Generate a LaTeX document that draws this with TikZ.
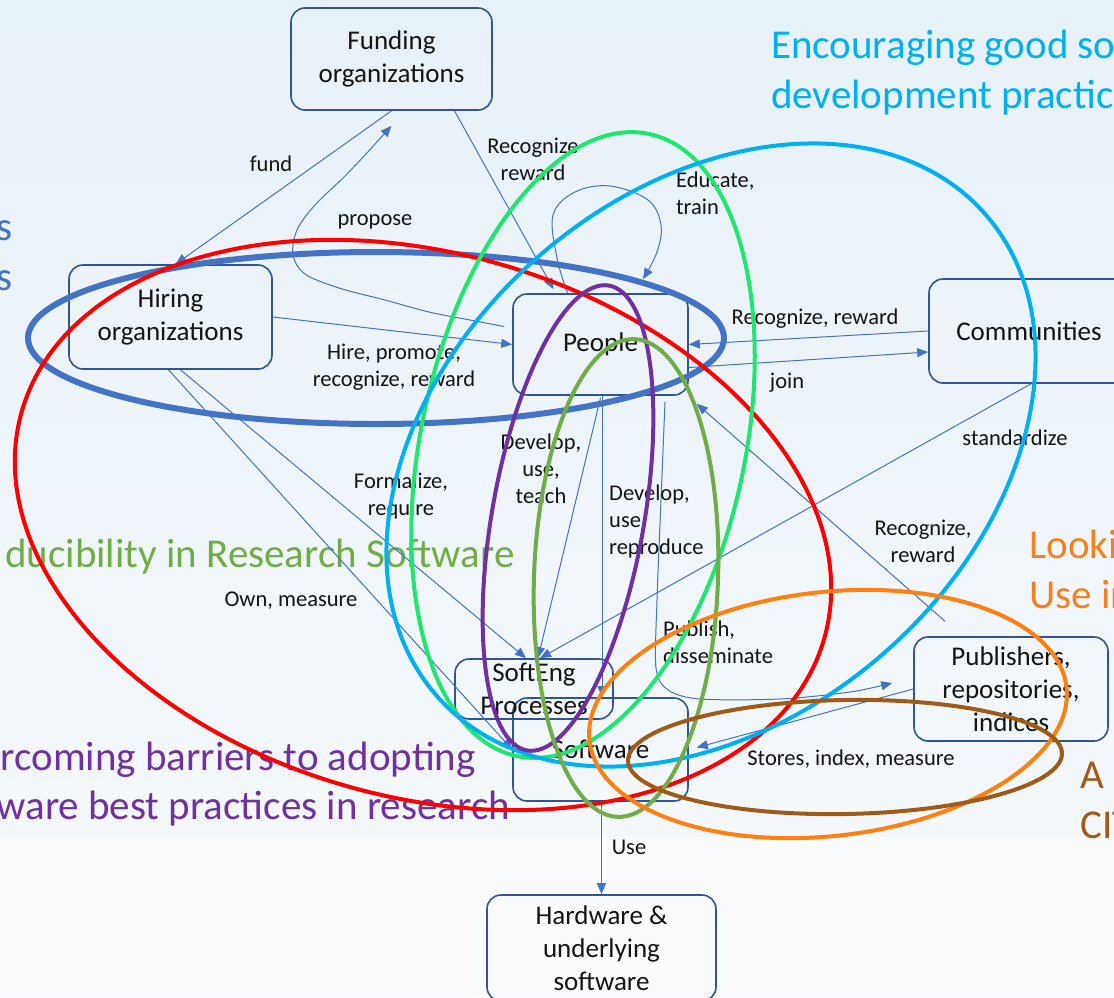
\documentclass[tikz,border=0pt]{standalone}
\usepackage{fontspec}
\setmainfont{Carlito}
\usetikzlibrary{arrows.meta,calc}
\definecolor{connblue}{RGB}{68,114,196}
\definecolor{boxblue}{RGB}{47,85,151}
\definecolor{ellred}{RGB}{255,0,0}
\definecolor{ellgreen}{RGB}{30,230,110}
\definecolor{ellcyan}{RGB}{0,176,240}
\definecolor{ellpurple}{RGB}{112,48,160}
\definecolor{ellolive}{RGB}{112,173,71}
\definecolor{ellorange}{RGB}{255,128,16}
\definecolor{ttlorange}{RGB}{245,128,32}
\definecolor{ellbrown}{RGB}{158,90,22}
\definecolor{bgtop}{RGB}{231,241,248}
\definecolor{bgmid}{RGB}{244,248,251}
\definecolor{bgbot}{RGB}{249,251,253}
\definecolor{txt}{RGB}{20,20,20}
\newcommand\boxfont{\fontsize{27}{33}\selectfont}
\newcommand\lblfont{\fontsize{22.5}{27}\selectfont}
\newcommand\ttlfont{\fontsize{41}{50}\selectfont}
\tikzset{
  box/.style={draw=boxblue, line width=1.6pt, rounded corners=14pt, inner sep=0pt},
  boxtext/.style={font=\boxfont, align=center, text=txt, inner sep=0pt},
  conn/.style={draw=connblue, line width=1pt, -{Triangle[length=11pt,width=9pt]}},
  lbl/.style={font=\lblfont, align=center, text=txt, inner sep=0pt},
  ttl/.style={font=\ttlfont, inner sep=0pt},
  ell/.style={line width=4pt}
}
\begin{document}
\begin{tikzpicture}[x=1pt,y=-1pt]
\useasboundingbox (0,0) rectangle (1114,997);
\clip (0,0) rectangle (1114,997);
% background
\shade[top color=bgtop, bottom color=bgmid] (0,0) rectangle (1114,837);
\fill[bgbot] (0,837) rectangle (1114,997);

% titles
\node[ttl, text=ellcyan, anchor=base west] (t1a) at (771,58) {Encouraging good so};
\node[ttl, text=ellcyan, anchor=base west] (t1b) at (771,108) {development practic};
\node[ttl, text=connblue, anchor=base east] (t2a) at (13,240) {s};
\node[ttl, text=connblue, anchor=base east] (t2b) at (13,290) {s};
\node[ttl, text=ellolive, anchor=base east] (t3) at (515,567) {ducibility in Research Software};
\node[ttl, text=ellpurple, anchor=base east] (t4a) at (476,770) {rcoming barriers to adopting};
\node[ttl, text=ellpurple, anchor=base east] (t4b) at (510,819) {ware best practices in research};
\node[ttl, text=ttlorange, anchor=base west] (t5a) at (1029,558) {Looki};
\node[ttl, text=ttlorange, anchor=base west] (t5b) at (1029,608) {Use in};
\node[ttl, text=ellbrown, anchor=base west] (t6a) at (1080,788) {A s};
\node[ttl, text=ellbrown, anchor=base west] (t6b) at (1080,838) {CIT};

% boxes
\node[box, minimum width=201pt, minimum height=102pt, label={[boxtext]center:Funding\\organizations}] (funding) at (391.5,59) {};
\node[box, minimum width=203pt, minimum height=104pt, label={[boxtext]center:Hiring\\organizations}] (hiring) at (170.5,317) {};
\node[box, minimum width=175pt, minimum height=101pt, label={[boxtext]center:People}] (people) at (600.5,344.5) {};
\node[box, minimum width=200pt, minimum height=104pt, label={[boxtext]center:Communities}] (comm) at (1029,331) {};
\node[box, minimum width=194pt, minimum height=104pt, label={[boxtext]center:Publishers,\\repositories,\\indices}] (pub) at (1011,689) {};
\node[box, minimum width=175pt, minimum height=103pt, label={[boxtext]center:Software}] (soft) at (600.5,749.5) {};
\node[box, minimum width=158pt, minimum height=60pt, label={[boxtext]center:SoftEng\\Processes}] (seng) at (534,689) {};
\node[box, minimum width=229pt, minimum height=106pt, label={[boxtext]center:Hardware \&\\underlying\\software}] (hw) at (601.5,948) {};

% connectors
\draw[conn] (funding.south) -- ([xshift=5pt]hiring.north);
\coordinate (propS) at ([xshift=-8pt,yshift=18pt]people.west);
\coordinate (propE) at ([yshift=-15pt]funding.south);
\draw[conn] plot[smooth, tension=0.55] coordinates {(propS) (470,320) (429,312) (385,300) (339,288) (305,274) (293,255) (297,230) (315,205) (343,178) (365,155) (propE)};
\draw[conn] ([xshift=63pt]funding.south) -- ([xshift=-47pt,yshift=4pt]people.north);
\coordinate (eduS) at ([xshift=-33pt]people.north);
\coordinate (eduE) at ([xshift=42.5pt,yshift=14pt]people.north);
\draw[conn] plot[smooth, tension=0.6] coordinates {(eduS) (557,258) (553,215) (575,192) (610,186) (648,200) (661,225) (657,252) (eduE)};
\draw[conn] (hiring.east) -- (people.west);
\draw[conn] (comm.west) -- (people.east);
\draw[conn] ([yshift=-23pt]people.east) -- ([yshift=-21pt]comm.west);
\draw[conn] ([xshift=2pt]comm.south) -- ([xshift=6pt]seng.north);
\draw[conn] ([xshift=-66pt,yshift=15pt]pub.north) -- ([xshift=8pt,yshift=-8pt]people.south east);
\draw[conn] ([yshift=-2pt]people.south) -- ([xshift=4pt]seng.north);
\draw[conn] ([xshift=1.5pt]people.south) -- ([xshift=1.5pt]soft.north);
\coordinate (pubS) at ([xshift=64.5pt,yshift=-6pt]people.south);
\coordinate (pubE) at ([xshift=-21pt,yshift=6pt]pub.west);
\draw[conn] plot[smooth, tension=0.5] coordinates {(pubS) (661,500) (657,600) (656,668) (668,690) (700,699) (780,699) (850,692) (pubE)};
\draw[conn] (pub.west) -- ([xshift=8pt,yshift=2pt]soft.east);
\draw[conn] ([xshift=1pt]soft.south) -- (hw.north);
\draw[conn] ([xshift=10pt]hiring.south) -- ([xshift=-8pt]seng.north);
\draw[conn] ([xshift=-2pt]hiring.south) -- (soft.west);

% connector labels
\node[lbl] (lfund) at (271,164) {fund};
\node[lbl] (lprop) at (375,222) {propose};
\node[lbl] (lrec1) at (533,159) {Recognize\\reward};
\node[lbl, anchor=west, align=left] (ledu) at (676,193.5) {Educate,\\train};
\node[lbl] (lhire) at (394,367.5) {Hire, promote,\\recognize, reward};
\node[lbl] (lrec2) at (815,319) {Recognize, reward};
\node[lbl] (ljoin) at (787,383) {join};
\node[lbl] (lstd) at (1015,438) {standardize};
\node[lbl] (lrec3) at (923,541.5) {Recognize,\\reward};
\node[lbl] (lteach) at (541,468.5) {Develop,\\use,\\teach};
\node[lbl, anchor=west, align=left] (lrepro) at (609,521) {Develop,\\use,\\reproduce};
\node[lbl] (lform) at (401,496) {Formalize,\\require};
\node[lbl] (lown) at (291,601) {Own, measure};
\node[lbl, anchor=west, align=left] (lpub) at (663,642.5) {Publish,\\disseminate};
\node[lbl] (lstore) at (851,759) {Stores, index, measure};
\node[lbl] (luse) at (629,847) {Use};

% grouping ellipses
\draw[ell, line width=6pt, connblue] (376,338) ellipse [x radius=348pt, y radius=86pt];
\draw[ell, ellred, rotate around={-15.7:(423,525)}] (423,525) ellipse [x radius=417pt, y radius=272pt];
\draw[ell, ellgreen, rotate around={78:(583,445)}] (583,445) ellipse [x radius=318pt, y radius=162pt];
\draw[ell, ellcyan, rotate around={41.3:(711,455)}] (711,455) ellipse [x radius=365pt, y radius=263pt];
\draw[ell, ellpurple, rotate around={80:(568,518)}] (568,518) ellipse [x radius=236pt, y radius=76pt];
\draw[ell, ellolive, rotate around={88:(626,578)}] (626,578) ellipse [x radius=239pt, y radius=92pt];
\draw[ell, ellorange, rotate around={6.4:(828,714)}] (828,714) ellipse [x radius=240pt, y radius=122pt];
\draw[ell, ellbrown, rotate around={1:(845,757)}] (845,757) ellipse [x radius=217pt, y radius=57pt];
\end{tikzpicture}
\end{document}
